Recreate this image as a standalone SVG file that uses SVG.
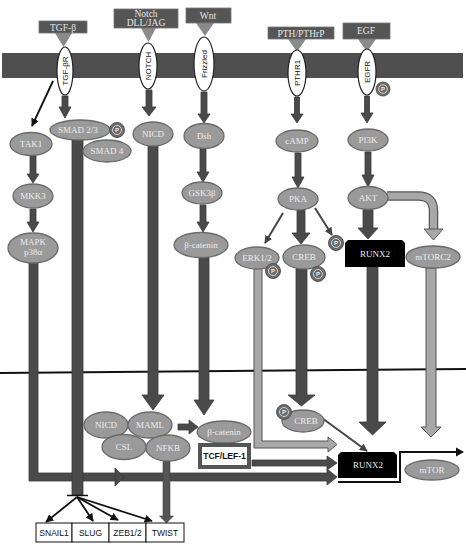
<svg xmlns="http://www.w3.org/2000/svg" width="466" height="547" viewBox="0 0 466 547">
<style>
.node{fill:#9a9a9a;stroke:#6a6a6a;stroke-width:1.3}
.nt{font-family:"Liberation Serif",serif;font-size:9px;fill:#ececec;text-anchor:middle}
.lig{fill:#555;stroke:#777;stroke-width:0.8}
.lt{font-family:"Liberation Serif",serif;font-size:9.5px;fill:#e6e6e6;text-anchor:middle}
.tri{fill:#8a8a8a}
.rec{fill:#fff;stroke:#222;stroke-width:1.2}
.rt{font-family:"Liberation Sans",sans-serif;font-size:8px;fill:#111;text-anchor:middle}
.dark{fill:#4a4a4a;stroke:#3a3a3a;stroke-width:0.8}
.light{fill:#a8a8a8;stroke:#555;stroke-width:1}
.thin{stroke:#111;stroke-width:1.8;fill:none;marker-end:url(#ah)}
.thing{stroke:#444;stroke-width:2;fill:none;marker-end:url(#ahg)}
.pc{fill:#6a6a6a;stroke:#555;stroke-width:1}
.pi{fill:none;stroke:#ddd;stroke-width:0.9}
.pt{font-family:"Liberation Sans",sans-serif;font-size:6px;fill:#eee;text-anchor:middle;font-weight:bold}
.box{fill:#fff;stroke:#111;stroke-width:1}
.bt{font-family:"Liberation Sans",sans-serif;font-size:8.5px;fill:#111;text-anchor:middle}
</style>
<defs>
<marker id="ah" viewBox="0 0 10 10" refX="9" refY="5" markerWidth="4.5" markerHeight="4.5" orient="auto" markerUnits="strokeWidth"><path d="M0,0 L10,5 L0,10 Z" fill="#111"/></marker>
<marker id="ahg" viewBox="0 0 10 10" refX="9" refY="5" markerWidth="4" markerHeight="4" orient="auto" markerUnits="strokeWidth"><path d="M0,0 L10,5 L0,10 Z" fill="#444"/></marker>
</defs>

<!-- membranes -->
<g id="membrane">
<rect x="2" y="53" width="461" height="25" fill="#4f4f4f"/>
<line x1="0" y1="373" x2="466" y2="369" stroke="#111" stroke-width="2"/>
</g>

<!-- connectors -->
<g id="connectors">
<!-- MAPK L-bar -->
<path class="dark" d="M29,263 L38,263 L38,473 L327,473 L327,469 L337,477 L327,485 L327,481 L29,481 Z"/>
<polygon class="dark" points="115,468 124,477 115,486"/>
<!-- ERK light L-bar -->
<path class="light" d="M254,268 L262,268 L262,441 L328,441 L328,437 L337,444.5 L328,452 L328,448 L254,448 Z"/>
<!-- TCF -> RUNX2 -->
<path class="dark" d="M252,460 L327,460 L327,456 L337,463 L327,470 L327,466 L252,466 Z"/>
<!-- SMAD bar -->
<rect class="dark" x="72" y="140" width="11" height="355"/>
<line x1="67" y1="495.5" x2="88" y2="495.5" stroke="#111" stroke-width="1.5"/>
<!-- NICD bar -->
<path class="dark" d="M148,146 L158,146 L158,395 L164,395 L153,410 L142,395 L148,395 Z"/>
<!-- beta-catenin bar -->
<path class="dark" d="M199,257 L209,257 L209,400 L214,400 L204,415 L194,400 L199,400 Z"/>
<!-- CREB bar -->
<path class="dark" d="M296,269 L307,269 L307,395 L315,395 L301.5,406 L288,395 L296,395 Z"/>
<!-- RUNX2 bar -->
<path class="dark" d="M367,267 L378,267 L378,422 L386,422 L372.5,435 L359,422 L367,422 Z"/>
<!-- mTORC2 bar -->
<path class="light" d="M426,268 L436,268 L436,427 L441,427 L431,437 L421,427 L426,427 Z"/>
<!-- NFKB bar -->
<path d="M163,461 L170,461 L170,516 L173.5,516 L166.5,523 L159.5,516 L163,516 Z" fill="#555" stroke="#444" stroke-width="0.6"/>
<!-- small arrows -->
<path class="dark" d="M62,96 L68,96 L68,107 L71,107 L65,118 L59,107 L62,107 Z"/>
<path class="dark" d="M146,90 L152,90 L152,107 L156,107 L149,116 L142,107 L146,107 Z"/>
<path class="dark" d="M201,92 L207,92 L207,114 L210,114 L204,123 L198,114 L201,114 Z"/>
<path class="dark" d="M294.5,97 L299.5,97 L299.5,114 L303,114 L297,123 L291,114 L294.5,114 Z"/>
<path class="dark" d="M364.5,96 L369.5,96 L369.5,113 L373,113 L367,123 L361,113 L364.5,113 Z"/>
<path class="dark" d="M30,156 L36,156 L36,174 L39,174 L33,183 L27,174 L30,174 Z"/>
<path class="dark" d="M30,209 L36,209 L36,222 L39,222 L33,232 L27,222 L30,222 Z"/>
<path class="dark" d="M200,149 L206,149 L206,172 L209,172 L203,182 L197,172 L200,172 Z"/>
<path class="dark" d="M200,205 L206,205 L206,222 L209,222 L203,232 L197,222 L200,222 Z"/>
<path class="dark" d="M295,153 L301,153 L301,177 L304,177 L298,188 L292,177 L295,177 Z"/>
<path class="dark" d="M365,152 L371,152 L371,175 L374,175 L368,187 L362,175 L365,175 Z"/>
<path class="dark" d="M297,210 L305,210 L305,233 L310,233 L301,244 L292,233 L297,233 Z"/>
<path class="dark" d="M363,210 L373,210 L373,228 L378,228 L368,239 L358,228 L363,228 Z"/>
<!-- AKT -> mTORC2 curved -->
<path d="M387,196 L418,196 Q433.5,196 433.5,211 L433.5,229" fill="none" stroke="#555" stroke-width="9.5"/>
<path d="M387,196 L418,196 Q433.5,196 433.5,211 L433.5,230" fill="none" stroke="#a8a8a8" stroke-width="7"/>
<polygon class="light" points="424,229 443,229 433.5,240"/>
<!-- thin arrows -->
<line class="thin" x1="53" y1="81" x2="32" y2="126"/>
<line class="thing" x1="283" y1="213" x2="265" y2="243"/>
<line class="thing" x1="315" y1="208" x2="332" y2="235"/>
<line class="thing" x1="322" y1="418" x2="367" y2="451"/>
<line class="thin" x1="77" y1="497" x2="46" y2="522"/>
<line class="thin" x1="77" y1="497" x2="93" y2="521"/>
<line class="thin" x1="77" y1="497" x2="118" y2="520"/>
<line class="thin" x1="77" y1="497" x2="152" y2="521"/>
<!-- MAML -> beta-catenin -->
<path class="dark" d="M178,424 L189,424 L189,420 L198,427 L189,434 L189,430 L178,430 Z"/>
<!-- RUNX2 output step line -->
<path d="M338,482 L400,482 L400,452 L458,452" fill="none" stroke="#111" stroke-width="2"/>
<polygon points="456,447.5 464,452 456,456.5" fill="#111"/>
</g>

<!-- ligands -->
<g id="lig-tgfb"><polygon class="tri" points="55,33 72,33 63.5,47"/><rect class="lig" x="39" y="21" width="48" height="12"/><text class="lt" x="63" y="30.5">TGF-β</text></g>
<g id="lig-notch"><polygon class="tri" points="141,28 156,28 148.5,42"/><rect class="lig" x="114" y="9" width="64" height="19"/><text class="lt" x="146" y="17">Notch</text><text class="lt" x="146" y="26">DLL/JAG</text></g>
<g id="lig-wnt"><polygon class="tri" points="196,23 214,23 205,36"/><rect class="lig" x="186" y="8" width="45" height="15"/><text class="lt" x="208" y="19">Wnt</text></g>
<g id="lig-pth"><polygon class="tri" points="288,39 306,39 297,52"/><rect class="lig" x="268" y="27" width="66" height="12"/><text class="lt" x="301" y="36.5" font-size="9">PTH/PTHrP</text></g>
<g id="lig-egf"><polygon class="tri" points="358,39 376,39 367,52"/><rect class="lig" x="343" y="23" width="47" height="16"/><text class="lt" x="366" y="34">EGF</text></g>

<!-- receptors -->
<g id="rec-tgfbr"><ellipse class="rec" cx="65" cy="71" rx="8" ry="24"/><text class="rt" transform="translate(68,71) rotate(-90)">TGF-βR</text></g>
<g id="rec-notch"><ellipse class="rec" cx="148" cy="66" rx="9" ry="23"/><text class="rt" transform="translate(151,66) rotate(-90)">NOTCH</text></g>
<g id="rec-frizzled"><ellipse class="rec" cx="204" cy="64" rx="10" ry="27"/><text class="rt" transform="translate(207,64) rotate(-90)">Frizzled</text></g>
<g id="rec-pthr1"><ellipse class="rec" cx="297" cy="73" rx="9" ry="23"/><text class="rt" transform="translate(300,73) rotate(-90)">PTHR1</text></g>
<g id="rec-egfr"><ellipse class="rec" cx="367" cy="72" rx="9" ry="23"/><text class="rt" transform="translate(370,72) rotate(-90)">EGFR</text>
<circle class="pc" cx="383" cy="89" r="7"/><circle class="pi" cx="383" cy="89" r="4.3"/><text class="pt" x="383" y="91.2">P</text></g>

<!-- cytoplasm nodes -->
<g id="n-tak1"><ellipse class="node" cx="31" cy="144" rx="21" ry="11.5"/><text class="nt" x="31" y="147">TAK1</text></g>
<g id="n-smad23"><ellipse class="node" cx="80" cy="130" rx="30" ry="10"/><text class="nt" x="78" y="133">SMAD 2/3</text>
<circle class="pc" cx="117" cy="130" r="7.5"/><circle class="pi" cx="117" cy="130" r="4.5"/><text class="pt" x="117" y="132.2">P</text></g>
<g id="n-smad4"><ellipse class="node" cx="107" cy="151" rx="24" ry="11"/><text class="nt" x="107" y="154">SMAD 4</text></g>
<g id="n-nicd1"><ellipse class="node" cx="153" cy="134" rx="20" ry="12"/><text class="nt" x="153" y="137">NICD</text></g>
<g id="n-dsh"><ellipse class="node" cx="204" cy="136" rx="20" ry="12.5"/><text class="nt" x="204" y="139">Dsh</text></g>
<g id="n-mkk3"><ellipse class="node" cx="33" cy="196" rx="20" ry="12"/><text class="nt" x="33" y="199">MKK3</text></g>
<g id="n-gsk3b"><ellipse class="node" cx="202" cy="193" rx="20" ry="11"/><text class="nt" x="202" y="196">GSK3β</text></g>
<g id="n-mapk"><ellipse class="node" cx="33" cy="248" rx="25" ry="15"/><text class="nt" x="33" y="245">MAPK</text><text class="nt" x="33" y="255">p38α</text></g>
<g id="n-bcat1"><ellipse class="node" cx="201" cy="245" rx="27" ry="12.5"/><text class="nt" x="201" y="248">β-catenin</text></g>
<g id="n-camp"><ellipse class="node" cx="297" cy="141" rx="21" ry="11"/><text class="nt" x="297" y="144">cAMP</text></g>
<g id="n-pi3k"><ellipse class="node" cx="368" cy="140" rx="20" ry="11"/><text class="nt" x="368" y="143">PI3K</text></g>
<g id="n-pka"><ellipse class="node" cx="298" cy="199" rx="20" ry="11"/><text class="nt" x="298" y="202">PKA</text></g>
<g id="n-akt"><ellipse class="node" cx="368" cy="198" rx="20" ry="11.5"/><text class="nt" x="368" y="201">AKT</text></g>
<g id="n-erk"><ellipse class="node" cx="257" cy="258" rx="22" ry="11"/><text class="nt" x="257" y="261">ERK1/2</text>
<circle class="pc" cx="273" cy="271" r="7.5"/><circle class="pi" cx="273" cy="271" r="4.5"/><text class="pt" x="273" y="273.2">P</text></g>
<g id="n-creb1"><ellipse class="node" cx="304" cy="257" rx="21" ry="12"/><text class="nt" x="304" y="260">CREB</text>
<circle class="pc" cx="318" cy="274" r="7.5"/><circle class="pi" cx="318" cy="274" r="4.5"/><text class="pt" x="318" y="276.2">P</text></g>
<g id="n-runx2a"><path d="M348,240 L402,240 L405,243 L405,267 L345,267 L345,243 Z" fill="#000"/><text class="nt" x="375" y="257">RUNX2</text>
<circle class="pc" cx="336" cy="243" r="7.5"/><circle class="pi" cx="336" cy="243" r="4.5"/><text class="pt" x="336" y="245.2">P</text></g>
<g id="n-mtorc2"><ellipse class="node" cx="433" cy="257" rx="27" ry="11"/><text class="nt" x="433" y="260">mTORC2</text></g>

<!-- nucleus nodes -->
<g id="n-nicd2"><ellipse class="node" cx="106" cy="425" rx="22" ry="13"/><text class="nt" x="106" y="428">NICD</text></g>
<g id="n-maml"><ellipse class="node" cx="150" cy="425" rx="22" ry="13"/><text class="nt" x="150" y="428">MAML</text></g>
<g id="n-csl"><ellipse class="node" cx="124" cy="447" rx="22" ry="12.5"/><text class="nt" x="124" y="450">CSL</text></g>
<g id="n-nfkb"><ellipse class="node" cx="168" cy="448" rx="22" ry="13"/><text class="nt" x="168" y="451">NFKB</text></g>
<g id="n-bcat2"><ellipse class="node" cx="224" cy="432" rx="27" ry="11"/><text class="nt" x="224" y="435">β-catenin</text></g>
<g id="n-tcf"><rect x="200" y="445" width="49" height="22" fill="#fff" stroke="#555" stroke-width="4"/><text class="bt" x="224.5" y="459" font-weight="bold" font-size="8">TCF/LEF-1</text></g>
<g id="n-creb2"><ellipse class="node" cx="303" cy="421" rx="21" ry="11"/><text class="nt" x="306" y="424">CREB</text>
<circle class="pc" cx="284" cy="412" r="7.5"/><circle class="pi" cx="284" cy="412" r="4.5"/><text class="pt" x="284" y="414.2">P</text></g>
<g id="n-runx2b"><path d="M341,452 L394,452 L397,455 L397,478 L338,478 L338,455 Z" fill="#000"/><text class="nt" x="368" y="468">RUNX2</text></g>
<g id="n-mtor"><ellipse class="node" cx="432" cy="470" rx="27" ry="10"/><text class="nt" x="432" y="473">mTOR</text></g>

<!-- target genes -->
<g id="n-snail1"><rect class="box" x="36" y="523" width="36" height="19"/><text class="bt" x="54" y="535.5">SNAIL1</text></g>
<g id="n-slug"><rect class="box" x="72" y="523" width="37" height="19"/><text class="bt" x="90.5" y="535.5">SLUG</text></g>
<g id="n-zeb"><rect class="box" x="109" y="523" width="37" height="19"/><text class="bt" x="127.5" y="535.5">ZEB1/2</text></g>
<g id="n-twist"><rect class="box" x="146" y="523" width="38" height="19"/><text class="bt" x="165" y="535.5">TWIST</text></g>
</svg>
